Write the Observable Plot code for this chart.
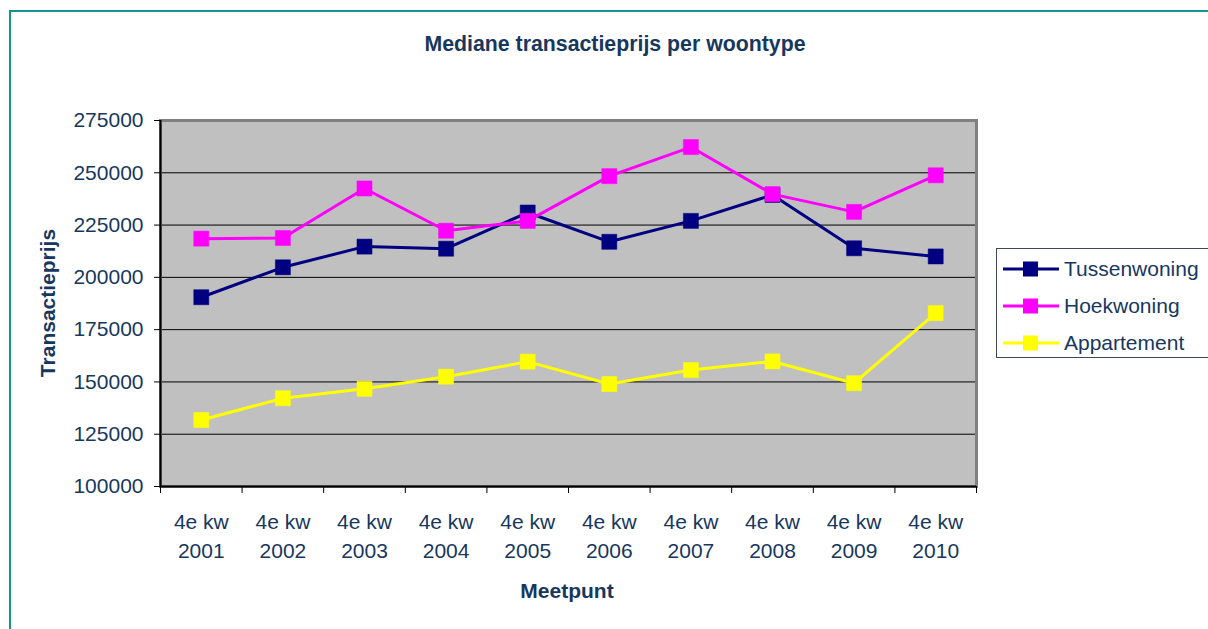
<!DOCTYPE html>
<html><head><meta charset="utf-8">
<script src="https://cdn.jsdelivr.net/npm/d3@7"></script>
<script src="https://cdn.jsdelivr.net/npm/@observablehq/plot@0.6"></script>
<style>
html,body{margin:0;padding:0;background:#fff;overflow:hidden;}
#wrap{position:relative;width:1208px;height:629px;overflow:hidden;font-family:"Liberation Sans",Arial,sans-serif;color:#17375E;}
#border{position:absolute;left:9px;top:10px;width:1300px;height:700px;border:2px solid #13968C;box-sizing:border-box;}
#chart{position:absolute;left:0;top:0;}
.lbl{position:absolute;font-weight:bold;font-size:21px;line-height:24px;white-space:nowrap;}
#title{left:415px;top:32px;width:400px;text-align:center;font-size:21.3px;}
#xlabel{left:467px;top:579px;width:200px;text-align:center;}
#ylabel{left:48px;top:303px;transform:translate(-50%,-50%) rotate(-90deg);}
#legend{position:absolute;left:996px;top:248px;width:230px;height:110px;border:1px solid #404858;box-sizing:border-box;background:#fff;}
.entry{position:absolute;left:6px;height:24px;display:flex;align-items:center;font-size:21px;}
.entry svg{margin-right:5px;}
</style></head>
<body>
<div id="wrap">
  <div id="border"></div>
  <div id="chart"></div>
  <div id="title" class="lbl">Mediane transactieprijs per woontype</div>
  <div id="ylabel" class="lbl">Transactieprijs</div>
  <div id="xlabel" class="lbl">Meetpunt</div>
  <div id="legend"></div>
</div>
<script>
const years = ["2001","2002","2003","2004","2005","2006","2007","2008","2009","2010"];
const quarterLabel = "4e kw";
const tussenwoning = [190500, 204800, 214700, 213700, 231000, 217000, 227000, 239400, 213900, 210000];
const hoekwoning   = [218500, 218800, 242500, 222300, 227000, 248400, 262300, 239800, 231300, 248800];
const appartement  = [131800, 142200, 146700, 152500, 159700, 149000, 155700, 159800, 149400, 182900];
const seriesNames  = ["Tussenwoning", "Hoekwoning", "Appartement"];
const seriesColors = ["#000080", "#FF00FF", "#FFFF00"];
const yTicks = [100000, 125000, 150000, 175000, 200000, 225000, 250000, 275000];

const seriesValues = [tussenwoning, hoekwoning, appartement];
const xDomain = [-0.5, years.length - 0.5];
const boundaries = d3.range(years.length + 1).map(i => i - 0.5);
const textColor = "#17375E";

const seriesMarks = [];
seriesNames.forEach((name, s) => {
  const rows = seriesValues[s].map((v, i) => ({series: name, i, year: years[i], value: v}));
  seriesMarks.push(Plot.line(rows, {x: "i", y: "value", stroke: seriesColors[s], strokeWidth: 3}));
  seriesMarks.push(Plot.dot(rows, {x: "i", y: "value", symbol: "square", r: 8.5, fill: seriesColors[s], stroke: seriesColors[s], strokeWidth: 0.5}));
});

const chart = Plot.plot({
  width: 1208,
  height: 629,
  marginLeft: 160,
  marginRight: 232,
  marginTop: 120,
  marginBottom: 143,
  style: {fontFamily: '"Liberation Sans", Arial, sans-serif', background: "transparent"},
  x: {type: "linear", domain: xDomain, axis: null, label: null},
  y: {type: "linear", domain: [yTicks[0], yTicks[yTicks.length - 1]], axis: null, label: null},
  marks: [
    Plot.frame({fill: "#C0C0C0"}),
    Plot.ruleY(yTicks.slice(1, -1), {stroke: "#000", strokeWidth: 1}),
    Plot.frame({stroke: "#808080", strokeWidth: 3}),
    Plot.ruleY([yTicks[0]], {stroke: "#000", strokeWidth: 2}),
    Plot.ruleX([xDomain[0]], {stroke: "#000", strokeWidth: 2}),
    Plot.axisY(yTicks, {label: null, tickSize: 6, tickPadding: 11, fontSize: 21, stroke: "#000", fill: textColor, tickFormat: d => String(d)}),
    Plot.axisX(boundaries, {label: null, tickSize: 7, stroke: "#000", tickFormat: () => ""}),
    Plot.text(years, {x: (d, i) => i, text: d => quarterLabel + "\n" + d, frameAnchor: "bottom", lineAnchor: "top", dy: 22, fontSize: 21, fill: textColor, lineHeight: 1.38}),
    ...seriesMarks
  ]
});
document.getElementById("chart").appendChild(chart);

const legend = document.getElementById("legend");
const entryTops = [8, 45, 82];
seriesNames.forEach((name, s) => {
  const e = document.createElement("div");
  e.className = "entry";
  e.style.top = entryTops[s] + "px";
  e.innerHTML = `<svg width="56" height="20"><line x1="0" y1="10" x2="56" y2="10" stroke="${seriesColors[s]}" stroke-width="3"/><rect x="20" y="2.5" width="15" height="15" fill="${seriesColors[s]}"/></svg><span>${name}</span>`;
  legend.appendChild(e);
});
</script>
</body></html>
